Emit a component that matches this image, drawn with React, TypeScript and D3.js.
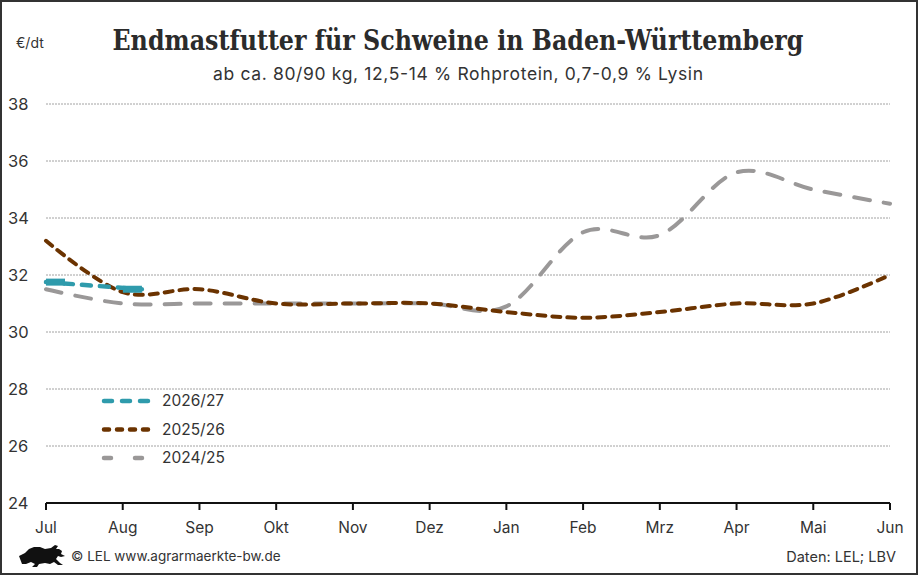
import * as d3 from 'd3';

const months = ['Jul', 'Aug', 'Sep', 'Okt', 'Nov', 'Dez', 'Jan', 'Feb', 'Mrz', 'Apr', 'Mai', 'Jun'];
const yTicks = [24, 26, 28, 30, 32, 34, 36, 38];

// 2024/25
const prices2425 = [31.5, 31.0, 31.0, 31.0, 31.0, 31.0, 30.9, 33.5, 33.4, 35.6, 35.0, 34.5];
// 2025/26
const prices2526 = [33.2, 31.4, 31.5, 31.0, 31.0, 31.0, 30.7, 30.5, 30.7, 31.0, 31.0, 32.0];
// 2026/27 (erst bis Mitte Aug)
const pos2627 = [0, 1.25];
const prices2627 = [31.75, 31.5];

const W = 918;
const H = 575;
const margin = { left: 46, right: 28, top: 104, bottom: 72 };

const x = d3.scaleLinear().domain([0, months.length - 1]).range([margin.left, W - margin.right]);
const y = d3.scaleLinear().domain([24, 38]).range([H - margin.bottom, margin.top]);

const line = d3
  .line<[number, number]>()
  .x((d) => x(d[0]))
  .y((d) => y(d[1]))
  .curve(d3.curveCardinal.tension(0));

const series = [
  {
    label: '2024/25',
    color: '#9a9898',
    dash: '16,14',
    pts: prices2425.map((v, i) => [i, v] as [number, number]),
  },
  {
    label: '2025/26',
    color: '#6b3300',
    dash: '8,7',
    pts: prices2526.map((v, i) => [i, v] as [number, number]),
  },
  {
    label: '2026/27',
    color: '#2f9bac',
    dash: '9,9',
    pts: prices2627.map((v, i) => [pos2627[i], v] as [number, number]),
  },
];

const legendOrder = ['2026/27', '2025/26', '2024/25'];
const legendDash: Record<string, string> = {
  '2026/27': '8,10',
  '2025/26': '5,8',
  '2024/25': '7,24',
};

const sans = "Inter, 'Noto Sans', sans-serif";

export default function App() {
  const teal = series[2];
  const first = teal.pts[0];
  const last = teal.pts[teal.pts.length - 1];
  return (
    <div style={{ position: 'fixed', left: 0, top: 0 }}>
      <svg width={W} height={H} style={{ display: 'block', background: '#fff' }}>
        <rect x={1} y={1} width={W - 2} height={H - 2} fill="#fff" stroke="#333" strokeWidth={2} />

        {/* title */}
        <text
          x={458}
          y={50}
          textAnchor="middle"
          fontFamily="'DejaVu Serif', serif"
          fontWeight="bold"
          fontSize={27}
          textLength={691}
          lengthAdjust="spacingAndGlyphs"
          fill="#2b2b2b"
        >
          Endmastfutter für Schweine in Baden-Württemberg
        </text>
        <text
          x={458}
          y={80}
          textAnchor="middle"
          fontFamily={sans}
          fontSize={17.5}
          textLength={490}
          lengthAdjust="spacing"
          fill="#333"
        >
          ab ca. 80/90 kg, 12,5-14 % Rohprotein, 0,7-0,9 % Lysin
        </text>
        <text x={16} y={48} fontFamily={sans} fontSize={14} fill="#333">
          €/dt
        </text>

        {/* grid */}
        {yTicks.slice(1).map((t) => (
          <line
            key={t}
            x1={margin.left}
            x2={W - margin.right}
            y1={y(t)}
            y2={y(t)}
            stroke="#8a8a8a"
            strokeWidth={0.8}
            strokeDasharray="2,1"
          />
        ))}
        {yTicks.map((t) => (
          <text key={t} x={8} y={y(t) + 6} fontFamily={sans} fontSize={16.5} fill="#333">
            {t}
          </text>
        ))}

        {/* x axis */}
        <line x1={margin.left} x2={W - margin.right} y1={y(24)} y2={y(24)} stroke="#111" strokeWidth={2} />
        {months.map((m, i) => (
          <g key={m}>
            <line x1={x(i)} x2={x(i)} y1={y(24)} y2={y(24) + 7} stroke="#111" strokeWidth={2} />
            <text x={x(i)} y={y(24) + 30} textAnchor="middle" fontFamily={sans} fontSize={15.5} fill="#333">
              {m}
            </text>
          </g>
        ))}

        {/* lines */}
        {series.map((s) => (
          <path
            key={s.label}
            d={line(s.pts) || ''}
            fill="none"
            stroke={s.color}
            strokeWidth={s.label === '2026/27' ? 4.5 : 4}
            strokeDasharray={s.dash}
            strokeLinecap="round"
          />
        ))}
        {/* thicker caps at both ends of 2026/27 */}
        <rect x={x(first[0])} y={y(first[1]) - 3.5} width={19} height={7} fill={teal.color} />
        <rect x={x(last[0]) - 19} y={y(last[1]) - 3.5} width={19} height={7} fill={teal.color} />

        {/* legend */}
        {legendOrder.map((lbl, i) => {
          const s = series.find((d) => d.label === lbl)!;
          const ly = 401 + i * 28.5;
          return (
            <g key={lbl}>
              <line
                x1={104}
                x2={155}
                y1={ly}
                y2={ly}
                stroke={s.color}
                strokeWidth={4.5}
                strokeDasharray={legendDash[lbl]}
                strokeLinecap="round"
              />
              <text x={162} y={ly + 5} fontFamily={sans} fontSize={15.5} fill="#333">
                {lbl}
              </text>
            </g>
          );
        })}

        {/* footer */}
        <path
          d="M19,556 l6,-3 l4,-4 l5,-2 l6,0 l5,2 l6,-1 l4,-3 l3,1 l-2,3 l3,0 l3,2 l-1,3 l4,2 l-4,1 l-3,-1 l-2,3 l4,4 l3,2 l-5,0 l-4,-3 l-4,2 l-5,-1 l-6,1 l-2,3 l-5,0 l3,-3 l-4,-2 l-5,2 l-4,0 Z"
          fill="#111"
        />
        <text x={71} y={561} fontFamily={sans} fontSize={13.5} fill="#333">
          © LEL www.agrarmaerkte-bw.de
        </text>
        <text x={896} y={562} textAnchor="end" fontFamily={sans} fontSize={14.5} fill="#333">
          Daten: LEL; LBV
        </text>
      </svg>
    </div>
  );
}
